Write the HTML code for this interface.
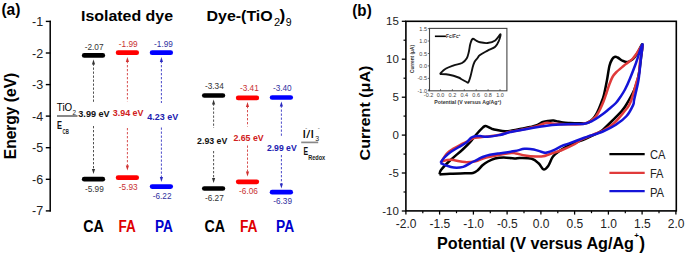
<!DOCTYPE html>
<html><head><meta charset="utf-8"><style>
html,body{margin:0;padding:0;background:#fff;}
svg{display:block;}
text{font-family:"Liberation Sans",sans-serif;}
</style></head><body>
<svg width="686" height="255" viewBox="0 0 686 255">
<rect width="686" height="255" fill="#fff"/>
<text x="1.4" y="14.5" font-size="17.2" font-weight="bold" textLength="19" lengthAdjust="spacingAndGlyphs">(a)</text>
<text x="81" y="21" font-size="15.5" font-weight="bold" textLength="92" lengthAdjust="spacingAndGlyphs">Isolated dye</text>
<text x="206.5" y="21" font-size="15.5" font-weight="bold" textLength="66.2" lengthAdjust="spacingAndGlyphs">Dye-(TiO</text>
<text x="273.9" y="25.5" font-size="11" fill="#000">2</text>
<text x="279.6" y="20.9" font-size="17.3" font-weight="bold">)</text>
<text x="285.8" y="26.2" font-size="10.5" fill="#000">9</text>
<text transform="translate(15.8,116) rotate(-90)" text-anchor="middle" font-size="16.3" font-weight="bold" textLength="86.5" lengthAdjust="spacingAndGlyphs">Energy (eV)</text>
<line x1="50.2" y1="20.7" x2="50.2" y2="211.6" stroke="#000" stroke-width="1.5"/>
<line x1="45.8" y1="21.4" x2="50.9" y2="21.4" stroke="#000" stroke-width="1.4"/>
<text x="43.2" y="25.9" text-anchor="end" font-size="12.5" fill="#222">-1</text>
<line x1="45.8" y1="53.0" x2="50.9" y2="53.0" stroke="#000" stroke-width="1.4"/>
<text x="43.2" y="57.5" text-anchor="end" font-size="12.5" fill="#222">-2</text>
<line x1="45.8" y1="84.6" x2="50.9" y2="84.6" stroke="#000" stroke-width="1.4"/>
<text x="43.2" y="89.1" text-anchor="end" font-size="12.5" fill="#222">-3</text>
<line x1="45.8" y1="116.1" x2="50.9" y2="116.1" stroke="#000" stroke-width="1.4"/>
<text x="43.2" y="120.6" text-anchor="end" font-size="12.5" fill="#222">-4</text>
<line x1="45.8" y1="147.7" x2="50.9" y2="147.7" stroke="#000" stroke-width="1.4"/>
<text x="43.2" y="152.2" text-anchor="end" font-size="12.5" fill="#222">-5</text>
<line x1="45.8" y1="179.3" x2="50.9" y2="179.3" stroke="#000" stroke-width="1.4"/>
<text x="43.2" y="183.8" text-anchor="end" font-size="12.5" fill="#222">-6</text>
<line x1="45.8" y1="210.9" x2="50.9" y2="210.9" stroke="#000" stroke-width="1.4"/>
<text x="43.2" y="215.4" text-anchor="end" font-size="12.5" fill="#222">-7</text>
<line x1="84.2" y1="55.4" x2="102.8" y2="55.4" stroke="#000" stroke-width="4.7" stroke-linecap="round"/>
<line x1="84.2" y1="179.2" x2="102.8" y2="179.2" stroke="#000" stroke-width="4.7" stroke-linecap="round"/>
<line x1="118.1" y1="52.7" x2="136.7" y2="52.7" stroke="#f00" stroke-width="4.7" stroke-linecap="round"/>
<line x1="118.1" y1="177.7" x2="136.7" y2="177.7" stroke="#f00" stroke-width="4.7" stroke-linecap="round"/>
<line x1="152.1" y1="52.7" x2="170.7" y2="52.7" stroke="#00f" stroke-width="4.7" stroke-linecap="round"/>
<line x1="152.1" y1="186.6" x2="170.7" y2="186.6" stroke="#00f" stroke-width="4.7" stroke-linecap="round"/>
<line x1="204.3" y1="95.5" x2="222.9" y2="95.5" stroke="#000" stroke-width="4.7" stroke-linecap="round"/>
<line x1="204.3" y1="188.5" x2="222.9" y2="188.5" stroke="#000" stroke-width="4.7" stroke-linecap="round"/>
<line x1="238.2" y1="97.9" x2="256.8" y2="97.9" stroke="#f00" stroke-width="4.7" stroke-linecap="round"/>
<line x1="238.2" y1="181.8" x2="256.8" y2="181.8" stroke="#f00" stroke-width="4.7" stroke-linecap="round"/>
<line x1="272.1" y1="97.5" x2="290.7" y2="97.5" stroke="#00f" stroke-width="4.7" stroke-linecap="round"/>
<line x1="272.1" y1="192.2" x2="290.7" y2="192.2" stroke="#00f" stroke-width="4.7" stroke-linecap="round"/>
<text x="84.7" y="49.7" font-size="9" fill="#333" textLength="18.8" lengthAdjust="spacingAndGlyphs">-2.07</text>
<text x="118.8" y="47.1" font-size="9" fill="#c83030" textLength="18.8" lengthAdjust="spacingAndGlyphs">-1.99</text>
<text x="154.1" y="47.1" font-size="9" fill="#3030a0" textLength="18.8" lengthAdjust="spacingAndGlyphs">-1.99</text>
<text x="85.0" y="191.5" font-size="9" fill="#333" textLength="18.8" lengthAdjust="spacingAndGlyphs">-5.99</text>
<text x="118.8" y="190.3" font-size="9" fill="#c83030" textLength="18.8" lengthAdjust="spacingAndGlyphs">-5.93</text>
<text x="152.7" y="199.4" font-size="9" fill="#3030a0" textLength="18.8" lengthAdjust="spacingAndGlyphs">-6.22</text>
<text x="205.0" y="89.1" font-size="9" fill="#333" textLength="18.8" lengthAdjust="spacingAndGlyphs">-3.34</text>
<text x="240.0" y="90.9" font-size="9" fill="#c83030" textLength="18.8" lengthAdjust="spacingAndGlyphs">-3.41</text>
<text x="272.9" y="90.9" font-size="9" fill="#3030a0" textLength="18.8" lengthAdjust="spacingAndGlyphs">-3.40</text>
<text x="205.0" y="201.1" font-size="9" fill="#333" textLength="18.8" lengthAdjust="spacingAndGlyphs">-6.27</text>
<text x="239.1" y="194.4" font-size="9" fill="#c83030" textLength="18.8" lengthAdjust="spacingAndGlyphs">-6.06</text>
<text x="273.2" y="204.4" font-size="9" fill="#3030a0" textLength="18.8" lengthAdjust="spacingAndGlyphs">-6.39</text>
<line x1="93.5" y1="63.5" x2="93.5" y2="103.0" stroke="#333" stroke-width="0.85" stroke-dasharray="2.3,1.7"/><line x1="93.5" y1="126.0" x2="93.5" y2="170.0" stroke="#333" stroke-width="0.85" stroke-dasharray="2.3,1.7"/><path d="M93.5,59.5 L91.9,64.5 L95.1,64.5 Z" fill="#333"/><path d="M93.5,174.0 L91.9,169.0 L95.1,169.0 Z" fill="#333"/>
<line x1="127.4" y1="61.0" x2="127.4" y2="101.3" stroke="#d03030" stroke-width="0.85" stroke-dasharray="2.3,1.7"/><line x1="127.4" y1="128.0" x2="127.4" y2="166.5" stroke="#d03030" stroke-width="0.85" stroke-dasharray="2.3,1.7"/><path d="M127.4,57.0 L125.8,62.0 L129.0,62.0 Z" fill="#d03030"/><path d="M127.4,170.5 L125.8,165.5 L129.0,165.5 Z" fill="#d03030"/>
<line x1="161.4" y1="61.0" x2="161.4" y2="103.0" stroke="#2a2ac0" stroke-width="0.85" stroke-dasharray="2.3,1.7"/><line x1="161.4" y1="127.5" x2="161.4" y2="178.0" stroke="#2a2ac0" stroke-width="0.85" stroke-dasharray="2.3,1.7"/><path d="M161.4,57.0 L159.8,62.0 L163.0,62.0 Z" fill="#2a2ac0"/><path d="M161.4,182.0 L159.8,177.0 L163.0,177.0 Z" fill="#2a2ac0"/>
<line x1="213.6" y1="103.5" x2="213.6" y2="128.0" stroke="#333" stroke-width="0.85" stroke-dasharray="2.3,1.7"/><line x1="213.6" y1="151.0" x2="213.6" y2="179.0" stroke="#333" stroke-width="0.85" stroke-dasharray="2.3,1.7"/><path d="M213.6,99.5 L212.0,104.5 L215.2,104.5 Z" fill="#333"/><path d="M213.6,183.0 L212.0,178.0 L215.2,178.0 Z" fill="#333"/>
<line x1="247.5" y1="106.0" x2="247.5" y2="126.5" stroke="#d03030" stroke-width="0.85" stroke-dasharray="2.3,1.7"/><line x1="247.5" y1="145.5" x2="247.5" y2="172.5" stroke="#d03030" stroke-width="0.85" stroke-dasharray="2.3,1.7"/><path d="M247.5,102.0 L245.9,107.0 L249.1,107.0 Z" fill="#d03030"/><path d="M247.5,176.5 L245.9,171.5 L249.1,171.5 Z" fill="#d03030"/>
<line x1="281.4" y1="105.5" x2="281.4" y2="137.5" stroke="#2a2ac0" stroke-width="0.85" stroke-dasharray="2.3,1.7"/><line x1="281.4" y1="155.0" x2="281.4" y2="184.5" stroke="#2a2ac0" stroke-width="0.85" stroke-dasharray="2.3,1.7"/><path d="M281.4,101.5 L279.8,106.5 L283.0,106.5 Z" fill="#2a2ac0"/><path d="M281.4,188.5 L279.8,183.5 L283.0,183.5 Z" fill="#2a2ac0"/>
<text x="78.3" y="117" font-size="9.7" font-weight="bold" fill="#111" textLength="31.4" lengthAdjust="spacingAndGlyphs">3.99 eV</text>
<text x="112.8" y="115.6" font-size="9.7" font-weight="bold" fill="#d02020" textLength="30.7" lengthAdjust="spacingAndGlyphs">3.94 eV</text>
<text x="147.3" y="119.6" font-size="9.7" font-weight="bold" fill="#2020b0" textLength="30.9" lengthAdjust="spacingAndGlyphs">4.23 eV</text>
<text x="197.1" y="143.5" font-size="9.7" font-weight="bold" fill="#111" textLength="30.2" lengthAdjust="spacingAndGlyphs">2.93 eV</text>
<text x="233.4" y="141.3" font-size="9.7" font-weight="bold" fill="#d02020" textLength="30.3" lengthAdjust="spacingAndGlyphs">2.65 eV</text>
<text x="266.9" y="151.2" font-size="9.7" font-weight="bold" fill="#2020b0" textLength="29.8" lengthAdjust="spacingAndGlyphs">2.99 eV</text>
<text x="56.8" y="110.9" font-size="10.6" fill="#000" textLength="15.4" lengthAdjust="spacingAndGlyphs">TiO</text>
<text x="72.6" y="114.8" font-size="6.3" fill="#222">2</text>
<line x1="57" y1="116" x2="77.5" y2="116" stroke="#888" stroke-width="2"/>
<text x="57" y="128.9" font-size="10.5" font-weight="bold" fill="#111" textLength="5" lengthAdjust="spacingAndGlyphs">E</text>
<text x="62.5" y="133.7" font-size="6.8" font-weight="bold" fill="#222" textLength="6.3" lengthAdjust="spacingAndGlyphs">CB</text>
<text x="302.2" y="138" font-size="11.8" fill="#000" textLength="12" lengthAdjust="spacingAndGlyphs">I/I</text>
<text x="305.3" y="130" font-size="6" fill="#333">-</text>
<text x="315.2" y="140.8" font-size="7" fill="#222">3</text>
<text x="317.8" y="130" font-size="6" fill="#333">-</text>
<line x1="301.2" y1="142.4" x2="318.2" y2="142.4" stroke="#888" stroke-width="1.7"/>
<text x="303.4" y="155.3" font-size="10.8" font-weight="bold" fill="#111" textLength="4.6" lengthAdjust="spacingAndGlyphs">E</text>
<text x="308.2" y="159.6" font-size="6.3" font-weight="bold" fill="#222" textLength="17" lengthAdjust="spacingAndGlyphs">Redox</text>
<text x="83.3" y="232.4" font-size="16" font-weight="bold" fill="#000" textLength="20.6" lengthAdjust="spacingAndGlyphs">CA</text>
<text x="118.6" y="232.4" font-size="16" font-weight="bold" fill="#e00000" textLength="17.3" lengthAdjust="spacingAndGlyphs">FA</text>
<text x="154.9" y="232.4" font-size="16" font-weight="bold" fill="#0000cc" textLength="17.9" lengthAdjust="spacingAndGlyphs">PA</text>
<text x="204.6" y="232.4" font-size="16" font-weight="bold" fill="#000" textLength="20.5" lengthAdjust="spacingAndGlyphs">CA</text>
<text x="239.9" y="232.4" font-size="16" font-weight="bold" fill="#e00000" textLength="17.6" lengthAdjust="spacingAndGlyphs">FA</text>
<text x="276.0" y="232.4" font-size="16" font-weight="bold" fill="#0000cc" textLength="18.1" lengthAdjust="spacingAndGlyphs">PA</text>
<text x="352.3" y="15.5" font-size="16.2" font-weight="bold" textLength="19.4" lengthAdjust="spacingAndGlyphs">(b)</text>
<rect x="405.9" y="21.3" width="270.4" height="189.6" fill="none" stroke="#000" stroke-width="1.6"/>
<line x1="401.8" y1="211.0" x2="405.9" y2="211.0" stroke="#000" stroke-width="1.3"/>
<text x="398.8" y="215.1" text-anchor="end" font-size="11.5" fill="#222">-10</text>
<line x1="401.8" y1="173.0" x2="405.9" y2="173.0" stroke="#000" stroke-width="1.3"/>
<text x="398.8" y="177.1" text-anchor="end" font-size="11.5" fill="#222">-5</text>
<line x1="401.8" y1="135.1" x2="405.9" y2="135.1" stroke="#000" stroke-width="1.3"/>
<text x="398.8" y="139.2" text-anchor="end" font-size="11.5" fill="#222">0</text>
<line x1="401.8" y1="97.2" x2="405.9" y2="97.2" stroke="#000" stroke-width="1.3"/>
<text x="398.8" y="101.3" text-anchor="end" font-size="11.5" fill="#222">5</text>
<line x1="401.8" y1="59.2" x2="405.9" y2="59.2" stroke="#000" stroke-width="1.3"/>
<text x="398.8" y="63.3" text-anchor="end" font-size="11.5" fill="#222">10</text>
<line x1="401.8" y1="21.3" x2="405.9" y2="21.3" stroke="#000" stroke-width="1.3"/>
<text x="398.8" y="25.4" text-anchor="end" font-size="11.5" fill="#222">15</text>
<line x1="403.5" y1="192.0" x2="405.9" y2="192.0" stroke="#000" stroke-width="1.2"/>
<line x1="403.5" y1="154.1" x2="405.9" y2="154.1" stroke="#000" stroke-width="1.2"/>
<line x1="403.5" y1="116.1" x2="405.9" y2="116.1" stroke="#000" stroke-width="1.2"/>
<line x1="403.5" y1="78.2" x2="405.9" y2="78.2" stroke="#000" stroke-width="1.2"/>
<line x1="403.5" y1="40.2" x2="405.9" y2="40.2" stroke="#000" stroke-width="1.2"/>
<line x1="405.9" y1="210.9" x2="405.9" y2="214.6" stroke="#000" stroke-width="1.3"/>
<text x="406.2" y="228" text-anchor="middle" font-size="12" fill="#222">-2.0</text>
<line x1="439.6" y1="210.9" x2="439.6" y2="214.6" stroke="#000" stroke-width="1.3"/>
<text x="439.9" y="228" text-anchor="middle" font-size="12" fill="#222">-1.5</text>
<line x1="473.4" y1="210.9" x2="473.4" y2="214.6" stroke="#000" stroke-width="1.3"/>
<text x="473.7" y="228" text-anchor="middle" font-size="12" fill="#222">-1.0</text>
<line x1="507.1" y1="210.9" x2="507.1" y2="214.6" stroke="#000" stroke-width="1.3"/>
<text x="507.4" y="228" text-anchor="middle" font-size="12" fill="#222">-0.5</text>
<line x1="540.9" y1="210.9" x2="540.9" y2="214.6" stroke="#000" stroke-width="1.3"/>
<text x="541.2" y="228" text-anchor="middle" font-size="12" fill="#222">0.0</text>
<line x1="574.6" y1="210.9" x2="574.6" y2="214.6" stroke="#000" stroke-width="1.3"/>
<text x="574.9" y="228" text-anchor="middle" font-size="12" fill="#222">0.5</text>
<line x1="608.4" y1="210.9" x2="608.4" y2="214.6" stroke="#000" stroke-width="1.3"/>
<text x="608.7" y="228" text-anchor="middle" font-size="12" fill="#222">1.0</text>
<line x1="642.1" y1="210.9" x2="642.1" y2="214.6" stroke="#000" stroke-width="1.3"/>
<text x="642.4" y="228" text-anchor="middle" font-size="12" fill="#222">1.5</text>
<line x1="675.9" y1="210.9" x2="675.9" y2="214.6" stroke="#000" stroke-width="1.3"/>
<text x="676.2" y="228" text-anchor="middle" font-size="12" fill="#222">2.0</text>
<line x1="422.8" y1="210.9" x2="422.8" y2="213.2" stroke="#000" stroke-width="1.2"/>
<line x1="456.5" y1="210.9" x2="456.5" y2="213.2" stroke="#000" stroke-width="1.2"/>
<line x1="490.3" y1="210.9" x2="490.3" y2="213.2" stroke="#000" stroke-width="1.2"/>
<line x1="524.0" y1="210.9" x2="524.0" y2="213.2" stroke="#000" stroke-width="1.2"/>
<line x1="557.8" y1="210.9" x2="557.8" y2="213.2" stroke="#000" stroke-width="1.2"/>
<line x1="591.5" y1="210.9" x2="591.5" y2="213.2" stroke="#000" stroke-width="1.2"/>
<line x1="625.3" y1="210.9" x2="625.3" y2="213.2" stroke="#000" stroke-width="1.2"/>
<line x1="659.0" y1="210.9" x2="659.0" y2="213.2" stroke="#000" stroke-width="1.2"/>
<text x="437" y="249.2" font-size="16.4" font-weight="bold" textLength="197" lengthAdjust="spacingAndGlyphs">Potential (V versus Ag/Ag</text>
<text x="634.2" y="238.4" font-size="8" font-weight="bold">+</text>
<text x="639.3" y="249" font-size="17.5" font-weight="bold">)</text>
<text transform="translate(369.8,113) rotate(-90)" text-anchor="middle" font-size="15.5" font-weight="bold" textLength="95" lengthAdjust="spacingAndGlyphs">Current (μA)</text>
<path d="M439.5,174.5 C439.8,173.8 439.2,172.3 441.0,170.0 C442.8,167.7 446.4,163.9 450.0,160.5 C453.6,157.1 459.2,152.7 462.7,149.5 C466.2,146.3 468.7,143.7 471.0,141.1 C473.3,138.5 474.5,136.5 476.5,134.2 C478.5,131.9 481.5,128.8 483.0,127.4 C484.5,126.1 484.3,125.9 485.7,126.1 C487.1,126.3 489.7,128.0 491.6,128.7 C493.5,129.3 494.8,129.6 497.0,130.0 C499.2,130.4 502.5,131.1 505.0,131.2 C507.5,131.3 509.5,130.9 512.0,130.5 C514.5,130.1 517.0,129.6 520.0,129.0 C523.0,128.4 527.3,127.6 530.0,127.0 C532.7,126.4 533.8,126.3 536.0,125.5 C538.2,124.7 541.0,122.8 543.0,122.0 C545.0,121.2 546.2,121.1 548.0,120.9 C549.8,120.7 551.8,120.5 553.5,120.6 C555.2,120.7 556.4,121.2 558.0,121.5 C559.6,121.8 561.0,122.2 563.0,122.4 C565.0,122.7 567.2,122.8 570.0,123.0 C572.8,123.2 577.2,123.3 580.0,123.3 C582.8,123.3 584.9,123.7 587.0,123.0 C589.1,122.3 591.2,120.7 592.9,119.0 C594.6,117.3 595.6,115.5 597.0,112.9 C598.4,110.3 600.0,106.2 601.1,103.2 C602.2,100.2 602.9,98.9 603.9,95.0 C604.9,91.1 606.1,84.8 607.0,80.0 C607.9,75.2 608.6,69.4 609.4,66.0 C610.2,62.6 611.1,61.0 612.0,59.5 C612.9,58.0 613.6,57.3 614.5,57.0 C615.4,56.7 616.4,56.9 617.6,57.5 C618.9,58.1 620.6,59.8 622.0,60.5 C623.4,61.2 624.7,61.9 626.0,62.0 C627.3,62.1 628.7,61.7 630.0,61.0 C631.3,60.3 632.7,59.5 634.0,58.0 C635.3,56.5 636.6,54.3 638.0,52.0 C639.4,49.7 641.9,43.4 642.4,44.4 C642.9,45.4 641.5,53.7 641.0,58.0 C640.5,62.3 640.1,66.4 639.5,70.0 C638.9,73.6 638.5,76.4 637.6,79.7 C636.7,83.0 636.1,85.8 634.2,90.0 C632.3,94.2 628.2,101.5 626.1,105.0 C624.0,108.5 623.9,108.5 621.4,111.3 C618.9,114.1 614.2,118.8 611.0,122.0 C607.8,125.2 604.5,128.5 602.0,130.5 C599.5,132.5 598.8,132.6 596.0,134.0 C593.2,135.4 589.3,137.2 585.0,139.0 C580.7,140.8 574.2,143.1 570.0,145.0 C565.8,146.9 562.8,148.7 560.0,150.6 C557.2,152.5 555.0,153.9 553.0,156.5 C551.0,159.1 549.8,163.8 548.2,165.9 C546.6,168.1 545.1,169.8 543.5,169.4 C541.9,169.0 540.8,165.3 538.8,163.5 C536.8,161.7 534.9,159.7 531.8,158.8 C528.7,157.9 522.9,158.1 520.0,158.0 C517.1,157.9 517.1,158.6 514.4,158.5 C511.7,158.4 507.0,157.5 503.8,157.5 C500.6,157.5 497.6,157.8 495.0,158.5 C492.4,159.2 490.1,160.4 488.0,161.5 C485.9,162.6 484.2,163.8 482.5,165.3 C480.8,166.8 479.1,169.2 477.5,170.5 C475.9,171.8 475.1,172.5 473.0,173.0 C470.9,173.5 468.8,173.2 465.0,173.3 C461.2,173.4 454.2,173.6 450.0,173.8 C445.8,174.0 441.2,174.4 439.5,174.5" fill="none" stroke="#000" stroke-width="2.5" stroke-linejoin="round"/>
<path d="M441.5,161.5 C442.1,160.6 443.7,157.7 445.0,156.0 C446.3,154.3 447.6,152.8 449.1,151.5 C450.6,150.2 452.2,149.4 454.0,148.3 C455.8,147.2 457.9,146.1 460.0,145.0 C462.1,143.9 464.9,142.7 466.4,142.0 C467.9,141.3 468.0,141.3 469.2,140.6 C470.4,139.9 471.8,138.6 473.7,138.0 C475.6,137.4 478.1,137.6 480.3,137.3 C482.5,137.1 483.7,136.9 487.0,136.5 C490.3,136.1 496.3,135.6 500.0,134.8 C503.7,134.1 505.7,132.8 509.0,132.0 C512.3,131.2 515.5,130.9 520.0,130.0 C524.5,129.1 531.7,127.7 536.0,126.5 C540.3,125.3 542.9,123.5 545.6,123.0 C548.3,122.5 548.8,123.3 552.0,123.5 C555.2,123.7 560.3,124.1 565.0,124.2 C569.7,124.3 576.2,124.6 580.0,124.3 C583.8,124.0 586.0,123.2 588.0,122.5 C590.0,121.8 590.7,121.0 592.0,120.0 C593.3,119.0 594.7,118.0 596.0,116.3 C597.3,114.5 598.8,112.0 600.0,109.5 C601.2,107.0 602.4,104.2 603.5,101.5 C604.6,98.8 605.5,95.9 606.5,93.0 C607.5,90.1 608.5,86.7 609.5,84.0 C610.5,81.3 611.4,78.9 612.5,77.0 C613.6,75.1 614.2,74.3 616.0,72.5 C617.8,70.7 621.5,67.7 623.5,66.0 C625.5,64.3 626.4,63.8 628.0,62.5 C629.6,61.2 631.4,60.1 632.9,58.5 C634.4,56.9 635.4,55.1 637.0,53.0 C638.6,50.9 641.9,44.1 642.4,45.6 C642.9,47.1 640.6,57.1 640.0,62.0 C639.4,66.9 639.4,71.7 638.8,75.0 C638.2,78.3 637.5,78.7 636.5,82.0 C635.5,85.3 634.2,91.2 633.0,95.0 C631.8,98.8 630.6,102.3 629.2,105.0 C627.8,107.7 627.1,108.2 624.5,111.3 C621.9,114.4 617.2,120.5 613.5,123.8 C609.8,127.1 605.4,129.3 602.5,130.9 C599.6,132.5 599.6,132.0 596.0,133.5 C592.4,135.0 584.2,138.2 580.7,140.0 C577.2,141.8 578.1,142.3 575.0,144.0 C571.9,145.7 566.2,148.3 562.0,150.0 C557.8,151.7 553.2,152.9 550.0,154.0 C546.8,155.1 545.3,155.9 543.0,156.3 C540.7,156.7 539.0,156.6 536.0,156.5 C533.0,156.4 528.3,156.0 525.0,155.5 C521.7,155.0 518.7,153.9 516.0,153.5 C513.3,153.1 514.0,152.5 509.0,153.2 C504.0,153.9 491.8,156.3 486.2,157.6 C480.6,158.9 479.1,160.4 475.6,161.2 C472.1,161.9 469.1,162.3 465.0,162.1 C460.9,161.9 454.6,159.9 450.7,159.8 C446.8,159.7 443.0,161.2 441.5,161.5" fill="none" stroke="#e03a3a" stroke-width="2.5" stroke-linejoin="round"/>
<path d="M440.5,162.9 C441.1,162.0 442.7,159.3 444.4,157.5 C446.1,155.7 448.3,153.7 450.7,152.0 C453.1,150.3 455.9,148.9 458.5,147.3 C461.1,145.7 464.3,144.1 466.4,142.5 C468.5,140.9 469.7,138.9 471.1,137.8 C472.5,136.8 473.5,136.5 475.0,136.2 C476.5,135.9 478.2,136.0 480.3,136.1 C482.4,136.2 484.2,137.0 487.5,136.8 C490.8,136.6 496.4,135.7 500.0,134.9 C503.6,134.2 505.9,133.1 509.2,132.3 C512.5,131.5 514.0,131.2 520.0,130.2 C526.0,129.1 538.2,127.0 545.0,126.0 C551.8,125.0 555.7,124.8 560.7,124.5 C565.7,124.2 571.2,124.0 575.0,123.9 C578.8,123.8 580.5,124.3 583.2,123.9 C586.0,123.5 588.2,123.1 591.5,121.4 C594.8,119.8 600.0,116.1 602.9,114.0 C605.8,111.9 606.8,110.8 609.0,109.0 C611.2,107.2 614.0,105.0 615.9,103.0 C617.8,101.0 619.0,99.0 620.5,96.8 C622.0,94.5 623.4,92.5 625.0,89.5 C626.6,86.5 628.2,82.9 630.0,78.5 C631.8,74.1 633.9,68.7 636.0,63.0 C638.1,57.3 641.6,44.4 642.4,44.2 C643.1,44.0 641.1,56.0 640.5,62.0 C639.9,68.0 639.5,73.8 638.5,80.0 C637.5,86.2 635.1,95.2 634.2,99.4 C633.3,103.6 634.4,102.3 633.1,105.1 C631.8,107.9 629.5,112.7 626.6,116.0 C623.7,119.3 619.9,122.2 615.9,124.8 C611.9,127.4 607.2,129.7 602.9,131.5 C598.6,133.3 593.1,134.8 590.0,135.8 C586.9,136.9 587.9,136.5 584.3,137.8 C580.7,139.1 572.3,142.2 568.6,143.6 C564.9,144.9 564.4,144.9 562.0,145.9 C559.6,146.9 556.8,148.8 554.4,149.8 C552.0,150.9 549.7,151.8 547.9,152.2 C546.1,152.6 545.9,153.0 543.5,152.5 C541.1,152.0 537.0,150.0 533.8,149.4 C530.6,148.8 527.5,148.5 524.4,148.8 C521.3,149.1 519.0,150.3 515.0,151.0 C511.0,151.7 504.5,152.6 500.3,153.2 C496.1,153.8 492.9,154.2 490.0,154.8 C487.1,155.4 484.8,156.2 482.6,157.0 C480.4,157.8 479.1,158.8 477.0,159.8 C474.9,160.9 472.3,162.1 470.0,163.3 C467.7,164.5 465.9,166.2 463.2,166.9 C460.5,167.6 456.7,167.9 453.8,167.6 C450.9,167.3 448.2,166.1 446.0,165.3 C443.8,164.5 441.4,163.3 440.5,162.9" fill="none" stroke="#1414d8" stroke-width="2.5" stroke-linejoin="round"/>
<line x1="609.4" y1="154.1" x2="644.7" y2="154.1" stroke="#000" stroke-width="2.4"/>
<text x="649.9" y="159.3" font-size="12" fill="#222" textLength="15.5" lengthAdjust="spacingAndGlyphs">CA</text>
<line x1="609.4" y1="172.9" x2="644.7" y2="172.9" stroke="#e03a3a" stroke-width="2.4"/>
<text x="649.9" y="177.6" font-size="12" fill="#222" textLength="13.6" lengthAdjust="spacingAndGlyphs">FA</text>
<line x1="609.4" y1="191.1" x2="644.7" y2="191.1" stroke="#1414d8" stroke-width="2.4"/>
<text x="649.9" y="196.5" font-size="12" fill="#222" textLength="14.2" lengthAdjust="spacingAndGlyphs">PA</text>
<rect x="429.5" y="28.4" width="77.4" height="62.4" fill="#fff" stroke="#444" stroke-width="1.1"/>
<line x1="427.8" y1="28.6" x2="429.5" y2="28.6" stroke="#444" stroke-width="0.8"/>
<text x="427" y="30.6" text-anchor="end" font-size="5.5" fill="#444">1.5</text>
<line x1="427.8" y1="41.0" x2="429.5" y2="41.0" stroke="#444" stroke-width="0.8"/>
<text x="427" y="43.0" text-anchor="end" font-size="5.5" fill="#444">1.0</text>
<line x1="427.8" y1="53.5" x2="429.5" y2="53.5" stroke="#444" stroke-width="0.8"/>
<text x="427" y="55.5" text-anchor="end" font-size="5.5" fill="#444">0.5</text>
<line x1="427.8" y1="65.9" x2="429.5" y2="65.9" stroke="#444" stroke-width="0.8"/>
<text x="427" y="67.9" text-anchor="end" font-size="5.5" fill="#444">0.0</text>
<line x1="427.8" y1="78.4" x2="429.5" y2="78.4" stroke="#444" stroke-width="0.8"/>
<text x="427" y="80.4" text-anchor="end" font-size="5.5" fill="#444">-0.5</text>
<line x1="427.8" y1="90.8" x2="429.5" y2="90.8" stroke="#444" stroke-width="0.8"/>
<text x="427" y="92.8" text-anchor="end" font-size="5.5" fill="#444">-1.0</text>
<line x1="428.6" y1="90.8" x2="428.6" y2="89.2" stroke="#444" stroke-width="0.8"/>
<text x="428.6" y="96.5" text-anchor="middle" font-size="5.5" fill="#444">-0.2</text>
<line x1="440.5" y1="90.8" x2="440.5" y2="89.2" stroke="#444" stroke-width="0.8"/>
<text x="440.5" y="96.5" text-anchor="middle" font-size="5.5" fill="#444">0.0</text>
<line x1="452.4" y1="90.8" x2="452.4" y2="89.2" stroke="#444" stroke-width="0.8"/>
<text x="452.4" y="96.5" text-anchor="middle" font-size="5.5" fill="#444">0.2</text>
<line x1="464.3" y1="90.8" x2="464.3" y2="89.2" stroke="#444" stroke-width="0.8"/>
<text x="464.3" y="96.5" text-anchor="middle" font-size="5.5" fill="#444">0.4</text>
<line x1="476.2" y1="90.8" x2="476.2" y2="89.2" stroke="#444" stroke-width="0.8"/>
<text x="476.2" y="96.5" text-anchor="middle" font-size="5.5" fill="#444">0.6</text>
<line x1="488.1" y1="90.8" x2="488.1" y2="89.2" stroke="#444" stroke-width="0.8"/>
<text x="488.1" y="96.5" text-anchor="middle" font-size="5.5" fill="#444">0.8</text>
<line x1="500.0" y1="90.8" x2="500.0" y2="89.2" stroke="#444" stroke-width="0.8"/>
<text x="500.0" y="96.5" text-anchor="middle" font-size="5.5" fill="#444">1.0</text>
<text x="434.3" y="104.2" font-size="5.8" font-weight="bold" fill="#333" textLength="67" lengthAdjust="spacingAndGlyphs">Potential (V versus Ag/Ag<tspan font-size="4" dy="-2">+</tspan><tspan dy="2">)</tspan></text>
<text transform="translate(413.6,59) rotate(-90)" text-anchor="middle" font-size="6" font-weight="bold" fill="#333" textLength="28" lengthAdjust="spacingAndGlyphs">Current (μA)</text>
<line x1="434.9" y1="36.3" x2="445.9" y2="36.3" stroke="#000" stroke-width="1.6"/>
<text x="446" y="38.4" font-size="6" font-weight="bold" fill="#333" textLength="14.5" lengthAdjust="spacingAndGlyphs">Fc/Fc<tspan font-size="4" dy="-2">+</tspan></text>
<path d="M439.8,74.0 C440.8,73.1 443.3,70.2 445.6,68.8 C447.9,67.3 451.1,66.3 453.8,65.3 C456.6,64.3 459.9,64.2 462.1,63.0 C464.3,61.8 465.7,60.0 466.8,58.2 C467.9,56.4 468.2,54.4 468.8,52.0 C469.4,49.6 469.7,46.3 470.3,44.1 C470.9,41.9 471.6,39.5 472.6,38.9 C473.6,38.3 474.9,40.0 476.2,40.6 C477.4,41.2 478.2,41.9 480.1,42.3 C482.0,42.7 485.1,43.3 487.6,43.0 C490.1,42.7 493.1,42.0 495.2,40.5 C497.3,39.0 499.8,34.3 500.4,34.3 C501.0,34.3 499.9,38.4 499.0,40.5 C498.1,42.6 497.1,45.1 495.2,46.8 C493.3,48.5 490.1,49.2 487.6,50.6 C485.1,52.0 481.7,53.7 480.0,55.0 C478.3,56.3 478.3,57.0 477.4,58.2 C476.5,59.4 475.3,60.4 474.5,62.0 C473.7,63.6 473.2,65.3 472.6,67.6 C472.0,69.9 471.3,73.5 470.6,76.0 C469.9,78.5 469.1,81.3 468.4,82.3 C467.7,83.3 467.7,82.5 466.6,82.0 C465.5,81.5 463.4,80.2 462.0,79.5 C460.6,78.8 460.6,78.3 458.5,77.5 C456.4,76.7 452.2,75.3 449.1,74.7 C446.0,74.1 441.4,74.1 439.8,74.0" fill="none" stroke="#111" stroke-width="1.9" stroke-linejoin="round"/>
</svg></body></html>
